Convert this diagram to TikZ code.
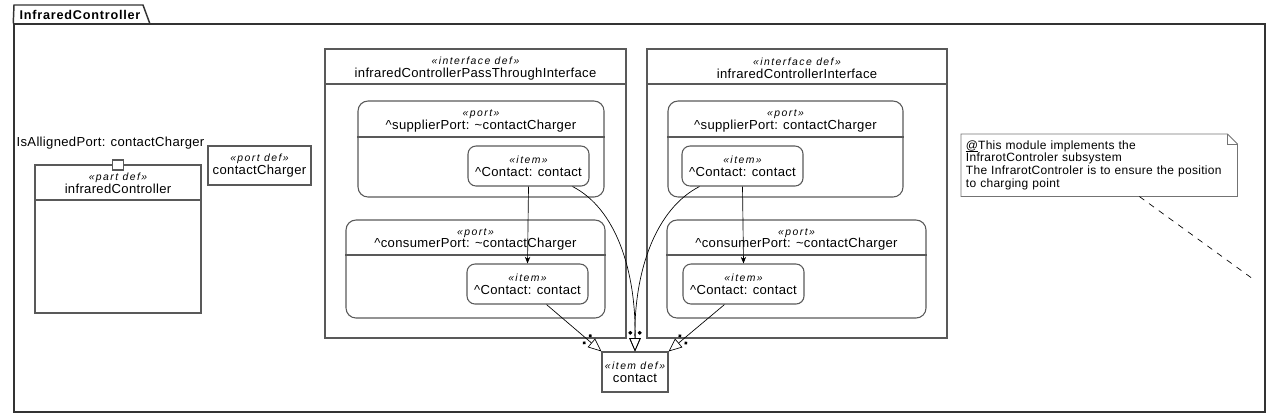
\documentclass[tikz,border=0pt]{standalone}
\usepackage{fontspec}
\setmainfont{Liberation Sans}
\usetikzlibrary{fit,calc,arrows.meta,decorations.markings}
\newcommand{\st}[1]{{\itshape\fontsize{7.8}{9.2}\selectfont\addfontfeatures{LetterSpace=14}«#1»}}
\begin{document}
\begin{tikzpicture}[x=0.75pt,y=-0.75pt,
    font=\fontsize{9.8}{9.6}\selectfont\addfontfeatures{LetterSpace=2.5},
    box/.style={draw=black!65, line width=0.8pt, inner sep=0pt},
    port/.style={box, rounded corners=7.5pt},
    item/.style={box, rounded corners=6pt, align=center, minimum width=90.75pt, minimum height=30pt},
    def/.style={box, align=center},
    title/.style={align=center, inner sep=0pt},
    cmp/.style={draw=black!65, line width=0.8pt},
    flow/.style={-{Stealth[length=5pt,width=4pt]}, line width=0.5pt},
    typed/.style={line width=0.5pt, -{Triangle[open,length=10pt,width=8.5pt]},
        postaction={decorate}, decoration={markings, mark=at position 1 with
        {\fill (-14pt,3.5pt) circle (1.4pt); \fill (-14pt,-3.5pt) circle (1.4pt);}}},
    notebox/.style={draw=black!55, line width=0.6pt}]
    \useasboundingbox (0,0) rectangle (1280,419);
    % package frame
    \node[fit={(14,24)(1265,412)}, draw=black!80, line width=1.1pt, inner sep=0pt] (pkg) {};
    \draw[draw=black!80, line width=1.1pt] (pkg.north west) -- (14,5) -- (143,5) -- (150,24);
    \node[anchor=west, font=\bfseries\fontsize{9.5}{12}\selectfont\addfontfeatures{LetterSpace=6}] (pkgT) at (15,14.5) {InfraredController};
    % part def
    \node[box, fit={(35,165)(201,313)}] (pd) {};
    \node[title] (pdT) at (118,183.5) {\st{part def}\\infraredController};
    \draw[cmp] (pd.west |- 0,200) -- (pd.east |- 0,200);
    \node[box, fill=white, minimum width=8pt, minimum height=7.5pt] (pdPort) at (118,165) {};
    \node[inner sep=0pt] (pdPortL) at (110.5,143) {IsAllignedPort: contactCharger};
    % port def
    \node[def, minimum width=77.25pt, minimum height=29.25pt] (pdef) at (259.5,165.5) {\st{port def}\\contactCharger};
    % pass-through interface
    \node[box, fit={(325,49)(626,338)}] (if1) {};
    \node[title] (if1T) at (475.5,68.5) {\st{interface def}\\infraredControllerPassThroughInterface};
    \draw[cmp] (if1.west |- 0,84) -- (if1.east |- 0,84);
    \node[port, fit={(358,101)(604,197)}] (sp1) {};
    \node[title] (sp1T) at (481,121) {\st{port}\\\textasciicircum supplierPort: \textasciitilde contactCharger};
    \draw[cmp] (sp1.west |- 0,137) -- (sp1.east |- 0,137);
    \node[item] (it1a) at (528.5,166) {\st{item}\\\textasciicircum Contact: contact};
    \node[port, fit={(346,220)(605,318)}] (cp1) {};
    \node[title] (cp1T) at (475.5,239.5) {\st{port}\\\textasciicircum consumerPort: \textasciitilde contactCharger};
    \draw[cmp] (cp1.west |- 0,255) -- (cp1.east |- 0,255);
    \node[item] (it1b) at (527.5,284) {\st{item}\\\textasciicircum Contact: contact};
    % interface
    \node[box, fit={(647,49)(947,338)}] (if2) {};
    \node[title] (if2T) at (797,68.5) {\st{interface def}\\infraredControllerInterface};
    \draw[cmp] (if2.west |- 0,84) -- (if2.east |- 0,84);
    \node[port, fit={(668,101)(903,197)}] (sp2) {};
    \node[title] (sp2T) at (785.5,121) {\st{port}\\\textasciicircum supplierPort: contactCharger};
    \draw[cmp] (sp2.west |- 0,137) -- (sp2.east |- 0,137);
    \node[item] (it2a) at (742.5,166) {\st{item}\\\textasciicircum Contact: contact};
    \node[port, fit={(667,220)(926,318)}] (cp2) {};
    \node[title] (cp2T) at (796.5,239.5) {\st{port}\\\textasciicircum consumerPort: \textasciitilde contactCharger};
    \draw[cmp] (cp2.west |- 0,255) -- (cp2.east |- 0,255);
    \node[item] (it2b) at (743.5,284) {\st{item}\\\textasciicircum Contact: contact};
    % item def
    \node[def, minimum width=49.5pt, minimum height=30pt] (ct) at (635,372) {\st{item def}\\contact};
    % connectors
    \draw[flow] (it1a.south) -- (it1b.north);
    \draw[flow] (it2a.south) -- (it2b.north);
    \draw[typed] ($(it1a.south east)+(-17,0)$) .. controls +(43,22) and +(1,-82) .. (ct.north);
    \draw[typed] ($(it2a.south west)+(18,0)$) .. controls +(-43,22) and +(-1,-82) .. (ct.north);
    \draw[typed] ($(it1b.south)+(19,0)$) -- (ct.north west);
    \draw[typed] ($(it2b.south)+(-19,0)$) -- (ct.north east);
    % note
    \node[anchor=north west, minimum width=207pt, minimum height=46.5pt, text width=200pt,
        inner xsep=3.5pt, inner ysep=0pt, align=left, font=\fontsize{9}{9.6}\selectfont\addfontfeatures{LetterSpace=2.5}] (note) at (961,134)
        {\underline{\smash{@}}This module implements the\\InfrarotControler subsystem\\The InfrarotControler is to ensure the position\\to charging point};
    \draw[notebox] (note.south west) -- (note.north west) -- ($(note.north east)+(-10,0)$)
        -- ($(note.north east)+(0,10)$) -- (note.south east) -- cycle;
    \draw[notebox] ($(note.north east)+(-10,0)$) -- ($(note.north east)+(-10,10)$) -- ($(note.north east)+(0,10)$);
    \coordinate (noteEnd) at (1253,279);
    \draw[line width=0.5pt, dash pattern=on 4.5pt off 4.5pt] ($(note.south west)!0.645!(note.south east)$) -- (noteEnd);
\end{tikzpicture}
\end{document}
